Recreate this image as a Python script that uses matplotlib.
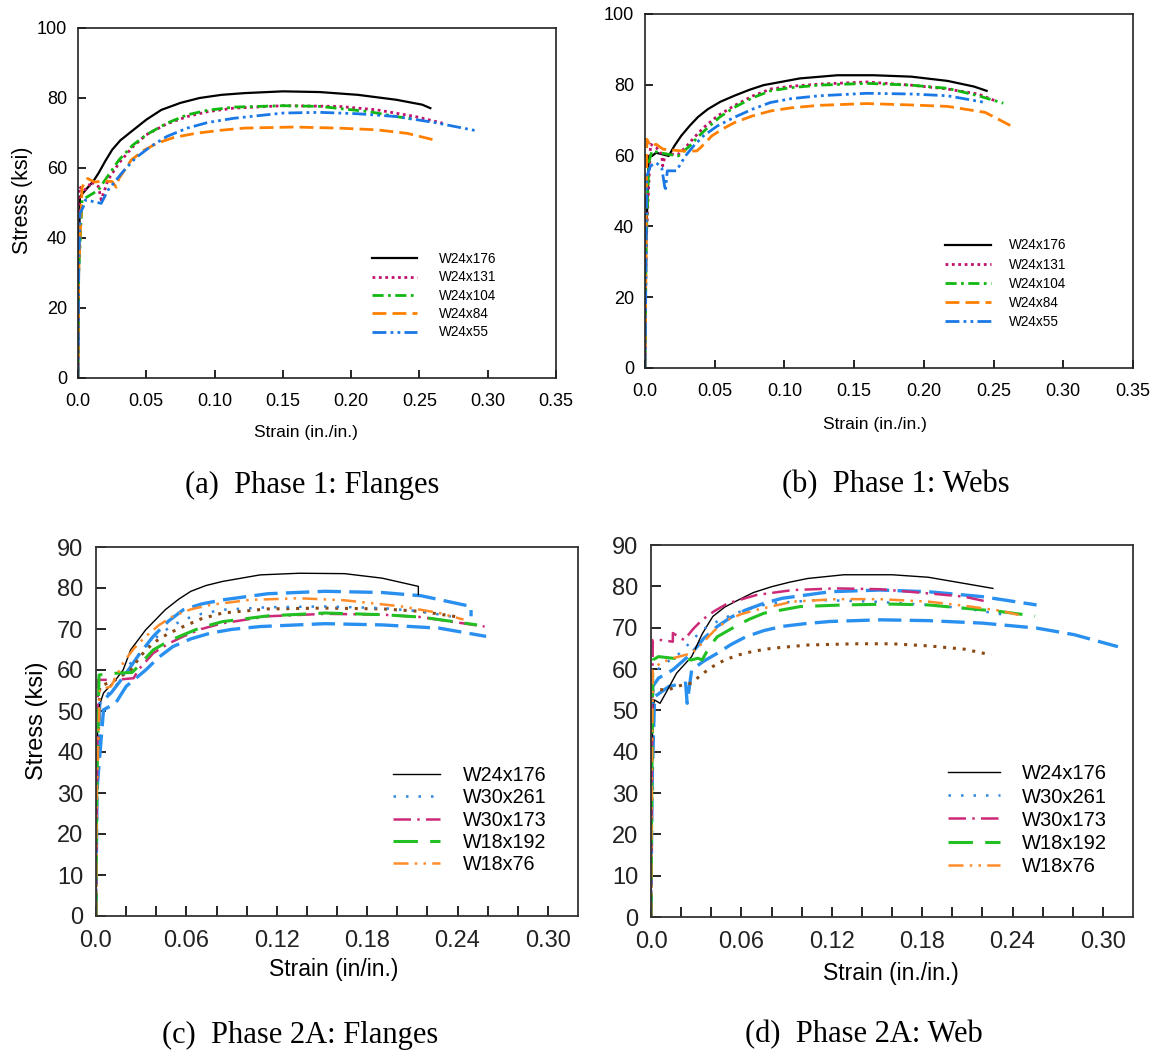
import matplotlib
matplotlib.use("Agg")
import matplotlib.pyplot as plt
import logging
logging.getLogger('matplotlib.font_manager').setLevel(logging.ERROR)

W, H = 1160, 1057

# ---------------- Phase 1: Flanges (a) ----------------
a_labels = ["W24x176", "W24x131", "W24x104", "W24x84", "W24x55"]
a_w24x176_strain = [0, 0.0005, 0.0014, 0.0055, 0.011, 0.015, 0.020, 0.025, 0.031, 0.039, 0.050, 0.061, 0.075, 0.089, 0.105, 0.122, 0.150, 0.177, 0.205, 0.233, 0.252, 0.258]
a_w24x176_stress = [0, 30, 51.8, 53.7, 56.1, 58.5, 62.0, 65.2, 67.9, 70.4, 73.8, 76.6, 78.6, 80.0, 80.9, 81.4, 81.9, 81.7, 80.9, 79.5, 78.1, 77.1]
a_w24x131_strain = [0, 0.0005, 0.001, 0.004, 0.008, 0.009, 0.015, 0.017, 0.022, 0.030, 0.040, 0.050, 0.065, 0.080, 0.095, 0.114, 0.150, 0.191, 0.219, 0.247, 0.267]
a_w24x131_stress = [0, 30, 54.7, 53.5, 54.7, 56.1, 54.7, 50.9, 56.6, 61.4, 66.0, 69.5, 72.6, 74.7, 76.1, 77.1, 77.8, 77.6, 76.6, 74.7, 72.8]
a_w24x104_strain = [0, 0.0005, 0.003, 0.007, 0.015, 0.019, 0.030, 0.040, 0.050, 0.065, 0.080, 0.095, 0.114, 0.150, 0.177, 0.213, 0.233, 0.245]
a_w24x104_stress = [0, 30, 50.9, 51.8, 53.7, 56.1, 62.3, 66.5, 69.5, 72.8, 75.2, 76.5, 77.4, 77.8, 77.6, 76.1, 74.7, 74.0]
a_w24x84_strain = [0, 0.0005, 0.003, 0.007, 0.012, 0.020, 0.025, 0.028, 0.030, 0.039, 0.048, 0.058, 0.070, 0.086, 0.105, 0.122, 0.158, 0.191, 0.219, 0.241, 0.261]
a_w24x84_stress = [0, 30, 54.5, 57.0, 56.0, 56.3, 56.1, 54.5, 57.0, 62.3, 65.0, 67.1, 68.7, 69.9, 70.8, 71.4, 71.7, 71.4, 70.9, 69.9, 68.0]
a_w24x55_strain = [0, 0.0005, 0.0014, 0.004, 0.0055, 0.017, 0.022, 0.033, 0.042, 0.053, 0.065, 0.080, 0.095, 0.114, 0.150, 0.177, 0.205, 0.233, 0.261, 0.291]
a_w24x55_stress = [0, 30, 47.0, 49.0, 50.9, 49.9, 53.7, 59.0, 62.8, 66.1, 69.0, 71.4, 73.0, 74.2, 75.7, 75.9, 75.5, 74.7, 73.0, 70.7]

# ---------------- Phase 1: Webs (b) ----------------
b_labels = ["W24x176", "W24x131", "W24x104", "W24x84", "W24x55"]
b_w24x176_strain = [0, 0.0008, 0.0027, 0.005, 0.008, 0.017, 0.021, 0.026, 0.032, 0.038, 0.045, 0.054, 0.064, 0.075, 0.085, 0.111, 0.138, 0.164, 0.191, 0.217, 0.236, 0.245]
b_w24x176_stress = [0, 35, 59.9, 59.9, 60.8, 59.9, 62.7, 65.6, 68.4, 70.9, 73.1, 75.2, 76.9, 78.6, 79.9, 81.8, 82.7, 82.7, 82.3, 81.1, 79.5, 78.3]
b_w24x131_strain = [0, 0.0008, 0.004, 0.008, 0.012, 0.0127, 0.0146, 0.024, 0.029, 0.035, 0.042, 0.052, 0.064, 0.077, 0.090, 0.105, 0.125, 0.159, 0.191, 0.217, 0.239, 0.251]
b_w24x131_stress = [0, 35, 63.2, 62.3, 60.4, 57.1, 60.4, 60.4, 62.3, 65.0, 67.9, 71.2, 74.1, 76.8, 78.8, 79.6, 80.2, 80.8, 79.9, 78.8, 77.4, 75.5]
b_w24x104_strain = [0, 0.0008, 0.0027, 0.005, 0.016, 0.024, 0.032, 0.038, 0.045, 0.054, 0.064, 0.077, 0.090, 0.105, 0.125, 0.159, 0.191, 0.217, 0.239, 0.257]
b_w24x104_stress = [0, 35, 58.0, 61.3, 60.4, 59.9, 62.7, 65.3, 67.9, 71.0, 73.6, 76.3, 78.3, 79.2, 79.9, 80.4, 79.9, 79.0, 76.9, 74.8]
b_w24x84_strain = [0, 0.0008, 0.0013, 0.004, 0.008, 0.013, 0.027, 0.037, 0.040, 0.048, 0.056, 0.064, 0.077, 0.090, 0.105, 0.125, 0.159, 0.191, 0.217, 0.244, 0.265]
b_w24x84_stress = [0, 35, 64.6, 62.7, 63.2, 61.8, 61.3, 61.3, 62.3, 65.6, 67.6, 69.3, 71.2, 72.6, 73.5, 74.2, 74.7, 74.3, 73.9, 72.2, 67.9]
b_w24x55_strain = [0, 0.0008, 0.0013, 0.004, 0.008, 0.012, 0.0146, 0.016, 0.0225, 0.029, 0.035, 0.042, 0.052, 0.064, 0.077, 0.090, 0.105, 0.125, 0.159, 0.191, 0.217, 0.244]
b_w24x55_stress = [0, 35, 54.2, 57.1, 58.0, 56.6, 50.0, 55.7, 55.7, 59.9, 62.8, 65.6, 68.4, 70.8, 73.1, 75.0, 76.1, 76.9, 77.6, 77.4, 76.9, 75.0]

# ---------------- Phase 2A: Flanges (c) ----------------
c_labels = ["W24x176", "W30x261", "W30x173", "W18x192", "W18x76"]
c_w24x176_strain = [0, 0.0005, 0.0013, 0.005, 0.013, 0.018, 0.023, 0.033, 0.046, 0.055, 0.063, 0.073, 0.084, 0.109, 0.135, 0.165, 0.190, 0.214, 0.214]
c_w24x176_stress = [0, 35, 50.3, 54.4, 57.6, 60.0, 64.9, 69.8, 74.7, 77.3, 79.2, 80.6, 81.6, 83.2, 83.6, 83.5, 82.4, 80.4, 78.4]
c_w30x261_strain = [0, 0.0005, 0.0013, 0.006, 0.013, 0.023, 0.038, 0.048, 0.058, 0.070, 0.084, 0.114, 0.152, 0.190, 0.216, 0.241]
c_w30x261_stress = [0, 30, 51.1, 53.5, 56.0, 61.7, 67.4, 70.2, 72.3, 73.7, 74.7, 75.3, 75.5, 75.1, 74.3, 72.7]
c_w30x173_strain = [0, 0.0005, 0.0013, 0.013, 0.025, 0.028, 0.038, 0.048, 0.058, 0.070, 0.084, 0.114, 0.152, 0.190, 0.216, 0.258]
c_w30x173_stress = [0, 30, 57.6, 57.6, 58.0, 60.0, 64.1, 66.4, 68.2, 70.0, 71.4, 73.1, 73.7, 73.5, 72.9, 70.6]
c_w18x192_strain = [0, 0.0005, 0.002, 0.013, 0.024, 0.028, 0.038, 0.048, 0.058, 0.070, 0.084, 0.114, 0.152, 0.190, 0.216, 0.253]
c_w18x192_stress = [0, 30, 58.8, 59.2, 59.4, 60.9, 64.9, 67.0, 68.6, 70.4, 71.8, 73.2, 73.9, 73.5, 72.9, 71.0]
c_w18x76_strain = [0, 0.0005, 0.0025, 0.010, 0.018, 0.025, 0.033, 0.042, 0.051, 0.063, 0.076, 0.102, 0.135, 0.165, 0.203, 0.228, 0.244]
c_w18x76_stress = [0, 30, 55.2, 56.0, 61.7, 65.2, 68.2, 71.0, 73.1, 74.8, 75.9, 77.1, 77.5, 77.0, 75.5, 73.9, 72.3]
c_extra_blue_hi_strain = [0, 0.0005, 0.0025, 0.010, 0.020, 0.029, 0.038, 0.048, 0.058, 0.070, 0.084, 0.114, 0.152, 0.190, 0.216, 0.249, 0.249]
c_extra_blue_hi_stress = [0, 30, 51.9, 54.4, 59.2, 64.0, 68.2, 71.9, 74.7, 76.1, 77.1, 78.6, 79.2, 78.9, 78.1, 75.5, 73.1]
c_extra_blue_lo_strain = [0, 0.0005, 0.005, 0.013, 0.020, 0.033, 0.042, 0.051, 0.063, 0.076, 0.090, 0.109, 0.152, 0.190, 0.228, 0.259]
c_extra_blue_lo_stress = [0, 30, 50.3, 51.9, 56.0, 60.0, 63.2, 65.7, 67.6, 69.0, 69.9, 70.6, 71.3, 71.0, 70.2, 68.2]
c_extra_brown_strain = [0, 0.0005, 0.0025, 0.013, 0.023, 0.030, 0.038, 0.048, 0.058, 0.070, 0.084, 0.114, 0.152, 0.190, 0.216, 0.241]
c_extra_brown_stress = [0, 30, 56.0, 57.6, 60.0, 63.6, 66.6, 68.9, 70.6, 72.5, 73.9, 74.9, 75.1, 74.9, 74.3, 72.9]

# ---------------- Phase 2A: Web (d) ----------------
d_labels = ["W24x176", "W30x261", "W30x173", "W18x192", "W18x76"]
d_w24x176_strain = [0, 0.0005, 0.0012, 0.0024, 0.006, 0.0097, 0.017, 0.027, 0.034, 0.041, 0.049, 0.058, 0.068, 0.080, 0.092, 0.104, 0.128, 0.160, 0.184, 0.208, 0.227]
d_w24x176_stress = [0, 30, 50.9, 52.5, 51.7, 54.1, 59.0, 63.0, 68.5, 72.7, 75.0, 76.7, 78.5, 79.9, 81.0, 81.9, 82.8, 82.8, 82.2, 80.7, 79.5]
d_w30x261_strain = [0, 0.0005, 0.0012, 0.0097, 0.019, 0.027, 0.034, 0.045, 0.056, 0.068, 0.080, 0.111, 0.148, 0.184, 0.208, 0.235]
d_w30x261_stress = [0, 30, 59.0, 61.4, 63.8, 66.8, 69.5, 71.7, 73.5, 74.9, 75.9, 76.7, 76.3, 75.5, 74.7, 73.1]
d_w30x173_strain = [0, 0.0005, 0.0012, 0.007, 0.0145, 0.0145, 0.022, 0.028, 0.034, 0.042, 0.051, 0.070, 0.094, 0.123, 0.152, 0.184, 0.208, 0.223]
d_w30x173_stress = [0, 35, 67.0, 67.0, 66.6, 68.7, 67.0, 69.7, 71.9, 74.0, 75.9, 77.9, 79.1, 79.5, 79.3, 78.3, 77.5, 76.3]
d_w18x192_strain = [0, 0.0005, 0.0012, 0.005, 0.0145, 0.027, 0.031, 0.034, 0.039, 0.044, 0.056, 0.065, 0.075, 0.099, 0.128, 0.160, 0.184, 0.208, 0.232, 0.255]
d_w18x192_stress = [0, 30, 62.2, 63.0, 62.6, 62.2, 62.6, 62.2, 65.5, 67.8, 70.3, 72.0, 73.5, 75.1, 75.5, 75.7, 75.5, 74.7, 73.9, 72.8]
d_w18x76_strain = [0, 0.0005, 0.0012, 0.006, 0.0145, 0.027, 0.034, 0.042, 0.051, 0.060, 0.070, 0.094, 0.123, 0.152, 0.184, 0.208, 0.232, 0.244]
d_w18x76_stress = [0, 30, 59.8, 61.4, 62.6, 63.8, 66.2, 69.3, 71.9, 73.3, 74.3, 76.3, 76.9, 76.9, 76.3, 75.3, 74.1, 73.1]
d_extra_blue_hi_strain = [0, 0.0005, 0.0012, 0.005, 0.0145, 0.027, 0.035, 0.044, 0.053, 0.063, 0.075, 0.087, 0.119, 0.152, 0.184, 0.220, 0.256]
d_extra_blue_hi_stress = [0, 30, 55.8, 57.8, 59.8, 63.8, 67.4, 70.3, 72.5, 74.3, 75.9, 77.1, 78.7, 79.1, 78.7, 77.5, 75.5]
d_extra_blue_lo_strain = [0, 0.0005, 0.0024, 0.012, 0.023, 0.024, 0.027, 0.035, 0.044, 0.053, 0.063, 0.075, 0.087, 0.103, 0.119, 0.152, 0.184, 0.220, 0.256, 0.281, 0.310]
d_extra_blue_lo_stress = [0, 30, 53.3, 55.8, 56.6, 51.7, 59.8, 61.9, 63.8, 65.9, 67.8, 69.3, 70.3, 71.0, 71.5, 71.9, 71.7, 71.1, 69.9, 68.3, 65.4]
d_extra_brown_strain = [0, 0.0005, 0.0012, 0.012, 0.017, 0.027, 0.034, 0.041, 0.049, 0.058, 0.068, 0.080, 0.104, 0.135, 0.160, 0.184, 0.208, 0.226]
d_extra_brown_stress = [0, 30, 55.0, 55.0, 55.8, 56.6, 58.8, 60.6, 62.2, 63.4, 64.3, 65.0, 65.8, 66.1, 66.1, 65.6, 64.8, 63.4]

captions = ["(a)  Phase 1: Flanges", "(b)  Phase 1: Webs", "(c)  Phase 2A: Flanges", "(d)  Phase 2A: Web"]

# ---------------- styles ----------------
NARROW = ["Liberation Sans Narrow", "Liberation Sans", "DejaVu Sans"]
SANS = ["Liberation Sans", "DejaVu Sans"]
SERIF = ["Liberation Serif", "DejaVu Serif"]

p1_styles = [
    dict(color="black", lw=1.6, ls="-"),
    dict(color="#c0106a", lw=2.0, ls=(0, (1, 1.3))),
    dict(color="#10b810", lw=2.0, ls=(0, (4, 1.6, 1, 1.6))),
    dict(color="#ff8000", lw=2.0, ls=(0, (5, 2.2))),
    dict(color="#1a78e6", lw=2.0, ls=(0, (5, 1.5, 1, 1.5, 1, 1.5))),
]
p2_styles = [
    dict(color="black", lw=1.0, ls="-"),
    dict(color="#2f86e0", lw=1.8, ls=(0, (1, 4))),
    dict(color="#cc2a78", lw=1.8, ls=(0, (7, 2.5, 1, 2.5))),
    dict(color="#22c022", lw=2.2, ls=(0, (8, 4))),
    dict(color="#ff8c2a", lw=1.8, ls=(0, (6, 2.5, 1, 2.5, 1, 2.5))),
]
extra_blue = dict(color="#2a90f0", lw=2.4, ls=(0, (7, 2.5)))
extra_brown = dict(color="#8b4a14", lw=2.2, ls=(0, (1, 2.2)))


def rect(l, r, t, b):
    return [l / W, 1 - b / H, (r - l) / W, (b - t) / H]


fig = plt.figure(figsize=(W / 100, H / 100), dpi=100)

# ---- panel a ----
ax = fig.add_axes(rect(78, 556, 28, 378))
series = [(a_w24x176_strain, a_w24x176_stress), (a_w24x131_strain, a_w24x131_stress),
          (a_w24x104_strain, a_w24x104_stress), (a_w24x84_strain, a_w24x84_stress),
          (a_w24x55_strain, a_w24x55_stress)]
for (x, y), lab, st in zip(series, a_labels, p1_styles):
    ax.plot(x, y, label=lab, color=st["color"], lw=st["lw"], linestyle=st["ls"])
ax.set_xlim(0, 0.35)
ax.set_ylim(0, 100)
ax.set_xticks([0, 0.05, 0.10, 0.15, 0.20, 0.25, 0.30, 0.35])
ax.set_xticklabels(["0.0", "0.05", "0.10", "0.15", "0.20", "0.25", "0.30", "0.35"])
ax.set_yticks([0, 20, 40, 60, 80, 100])
ax.set_ylabel("Stress (ksi)", family=SANS, fontsize=15.5, va="center", ha="center")
ax.yaxis.set_label_coords(-0.117, 0.509)
ax.set_xlabel("Strain (in./in.)", family=NARROW, fontsize=12.5, va="center", ha="center")
ax.xaxis.set_label_coords(0.477, -0.157)
leg = ax.legend(loc="upper left", bbox_to_anchor=(0.615, 0.36), frameon=False,
                prop=dict(family=NARROW, size=9.8), handlelength=3.3, handletextpad=1.6,
                labelspacing=0.32, borderpad=0, borderaxespad=0)

# ---- panel b ----
bx = fig.add_axes(rect(645, 1133, 14, 368))
series = [(b_w24x176_strain, b_w24x176_stress), (b_w24x131_strain, b_w24x131_stress),
          (b_w24x104_strain, b_w24x104_stress), (b_w24x84_strain, b_w24x84_stress),
          (b_w24x55_strain, b_w24x55_stress)]
for (x, y), lab, st in zip(series, b_labels, p1_styles):
    bx.plot(x, y, label=lab, color=st["color"], lw=st["lw"], linestyle=st["ls"])
bx.set_xlim(0, 0.35)
bx.set_ylim(0, 100)
bx.set_xticks([0, 0.05, 0.10, 0.15, 0.20, 0.25, 0.30, 0.35])
bx.set_xticklabels(["0.0", "0.05", "0.10", "0.15", "0.20", "0.25", "0.30", "0.35"])
bx.set_yticks([0, 20, 40, 60, 80, 100])
bx.set_xlabel("Strain (in./in.)", family=NARROW, fontsize=12.5, va="center", ha="center")
bx.xaxis.set_label_coords(0.471, -0.161)
bx.legend(loc="upper left", bbox_to_anchor=(0.615, 0.366), frameon=False,
          prop=dict(family=NARROW, size=9.8), handlelength=3.4, handletextpad=1.3,
          labelspacing=0.38, borderpad=0, borderaxespad=0)

for axx in (ax, bx):
    axx.tick_params(direction="in", length=6, width=1.2, top=False, right=False,
                    labelsize=13, pad=8)
    axx.tick_params(axis="x", pad=11)
    for lbl in axx.get_xticklabels() + axx.get_yticklabels():
        lbl.set_family(NARROW)
    for s in axx.spines.values():
        s.set_linewidth(1.2)
        s.set_color("#222222")

# ---- panel c ----
cx = fig.add_axes(rect(96, 578, 547, 916))
cx.plot(c_extra_blue_hi_strain, c_extra_blue_hi_stress, color=extra_blue["color"], lw=extra_blue["lw"], linestyle=extra_blue["ls"])
cx.plot(c_extra_blue_lo_strain, c_extra_blue_lo_stress, color=extra_blue["color"], lw=extra_blue["lw"], linestyle=extra_blue["ls"])
cx.plot(c_extra_brown_strain, c_extra_brown_stress, color=extra_brown["color"], lw=extra_brown["lw"], linestyle=extra_brown["ls"])
series = [(c_w24x176_strain, c_w24x176_stress), (c_w30x261_strain, c_w30x261_stress),
          (c_w30x173_strain, c_w30x173_stress), (c_w18x192_strain, c_w18x192_stress),
          (c_w18x76_strain, c_w18x76_stress)]
handles = []
for (x, y), lab, st in zip(series, c_labels, p2_styles):
    h, = cx.plot(x, y, label=lab, color=st["color"], lw=st["lw"], linestyle=st["ls"])
    handles.append(h)
cx.set_ylabel("Stress (ksi)", family=SANS, fontsize=17, va="center", ha="center")
cx.yaxis.set_label_coords(-0.123, 0.53)
cx.set_xlabel("Strain (in/in.)", family=SANS, fontsize=16.5, va="center", ha="center")
cx.xaxis.set_label_coords(0.494, -0.146)
cx.legend(handles=handles, loc="upper left", bbox_to_anchor=(0.616, 0.407), frameon=False,
          prop=dict(family=SANS, size=14.2), handlelength=2.4, handletextpad=1.15,
          labelspacing=0.17, borderpad=0, borderaxespad=0)

# ---- panel d ----
dx = fig.add_axes(rect(651, 1133, 545, 917))
dx.plot(d_extra_blue_hi_strain, d_extra_blue_hi_stress, color=extra_blue["color"], lw=extra_blue["lw"], linestyle=extra_blue["ls"])
dx.plot(d_extra_blue_lo_strain, d_extra_blue_lo_stress, color=extra_blue["color"], lw=extra_blue["lw"], linestyle=extra_blue["ls"])
dx.plot(d_extra_brown_strain, d_extra_brown_stress, color=extra_brown["color"], lw=extra_brown["lw"], linestyle=extra_brown["ls"])
series = [(d_w24x176_strain, d_w24x176_stress), (d_w30x261_strain, d_w30x261_stress),
          (d_w30x173_strain, d_w30x173_stress), (d_w18x192_strain, d_w18x192_stress),
          (d_w18x76_strain, d_w18x76_stress)]
handles = []
for (x, y), lab, st in zip(series, d_labels, p2_styles):
    h, = dx.plot(x, y, label=lab, color=st["color"], lw=st["lw"], linestyle=st["ls"])
    handles.append(h)
dx.set_xlabel("Strain (in./in.)", family=SANS, fontsize=16.5, va="center", ha="center")
dx.xaxis.set_label_coords(0.498, -0.151)
dx.legend(handles=handles, loc="upper left", bbox_to_anchor=(0.616, 0.41), frameon=False,
          prop=dict(family=SANS, size=14.5), handlelength=2.6, handletextpad=1.05,
          labelspacing=0.2, borderpad=0, borderaxespad=0)

for axx in (cx, dx):
    axx.set_xlim(0, 0.32)
    axx.set_ylim(0, 90)
    axx.set_xticks([0.02 * i for i in range(16)], minor=False)
    axx.set_xticklabels(["0.0" if i == 0 else ("%.2f" % (0.02 * i) if i % 3 == 0 else "") for i in range(16)])
    axx.set_yticks(list(range(0, 91, 10)))
    axx.tick_params(direction="in", length=7, width=1.2, top=False, right=False,
                    labelsize=17, pad=9)
    axx.tick_params(axis="x", pad=10)
    for lbl in axx.get_xticklabels() + axx.get_yticklabels():
        lbl.set_family(SANS)
        lbl.set_color("#222222")
    for s in axx.spines.values():
        s.set_linewidth(1.3)
        s.set_color("#333333")

# captions
cap_pos = [(312, 485), (896, 485), (300, 1035), (864, 1035)]
for txt, (px, py) in zip(captions, cap_pos):
    fig.text(px / W, 1 - py / H, txt, ha="center", va="center", family=SERIF, fontsize=22)

fig.savefig("out.png", dpi=100)
